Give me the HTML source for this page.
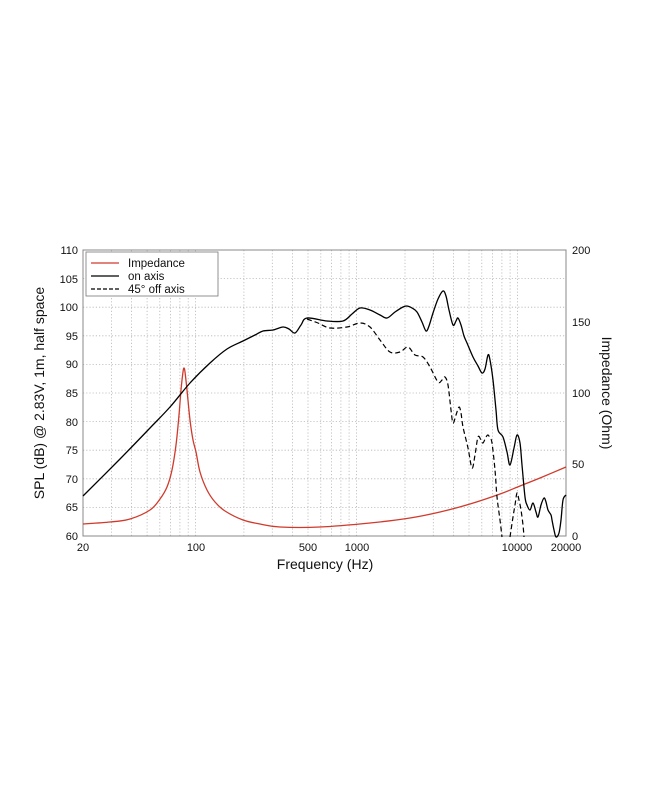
<!DOCTYPE html>
<html><head><meta charset="utf-8"><style>
body{margin:0;background:#fff;}
svg{display:block;font-family:"Liberation Sans",Arial,sans-serif;}
</style></head><body>
<svg id="s" width="650" height="794" viewBox="0 0 650 794" xmlns="http://www.w3.org/2000/svg">
<g stroke="#b5b5b5" stroke-width="0.8" stroke-dasharray="1.2,2">
<line x1="111.4" y1="250" x2="111.4" y2="536"/>
<line x1="131.5" y1="250" x2="131.5" y2="536"/>
<line x1="147.1" y1="250" x2="147.1" y2="536"/>
<line x1="159.8" y1="250" x2="159.8" y2="536"/>
<line x1="170.6" y1="250" x2="170.6" y2="536"/>
<line x1="179.9" y1="250" x2="179.9" y2="536"/>
<line x1="188.2" y1="250" x2="188.2" y2="536"/>
<line x1="195.5" y1="250" x2="195.5" y2="536"/>
<line x1="243.9" y1="250" x2="243.9" y2="536"/>
<line x1="272.3" y1="250" x2="272.3" y2="536"/>
<line x1="292.4" y1="250" x2="292.4" y2="536"/>
<line x1="308.0" y1="250" x2="308.0" y2="536"/>
<line x1="320.8" y1="250" x2="320.8" y2="536"/>
<line x1="331.5" y1="250" x2="331.5" y2="536"/>
<line x1="340.9" y1="250" x2="340.9" y2="536"/>
<line x1="349.1" y1="250" x2="349.1" y2="536"/>
<line x1="356.5" y1="250" x2="356.5" y2="536"/>
<line x1="405.0" y1="250" x2="405.0" y2="536"/>
<line x1="433.3" y1="250" x2="433.3" y2="536"/>
<line x1="453.4" y1="250" x2="453.4" y2="536"/>
<line x1="469.0" y1="250" x2="469.0" y2="536"/>
<line x1="481.8" y1="250" x2="481.8" y2="536"/>
<line x1="492.5" y1="250" x2="492.5" y2="536"/>
<line x1="501.9" y1="250" x2="501.9" y2="536"/>
<line x1="510.1" y1="250" x2="510.1" y2="536"/>
<line x1="517.5" y1="250" x2="517.5" y2="536"/>
<line x1="83" y1="278.6" x2="566" y2="278.6"/>
<line x1="83" y1="307.2" x2="566" y2="307.2"/>
<line x1="83" y1="335.8" x2="566" y2="335.8"/>
<line x1="83" y1="364.4" x2="566" y2="364.4"/>
<line x1="83" y1="393" x2="566" y2="393"/>
<line x1="83" y1="421.6" x2="566" y2="421.6"/>
<line x1="83" y1="450.2" x2="566" y2="450.2"/>
<line x1="83" y1="478.8" x2="566" y2="478.8"/>
<line x1="83" y1="507.4" x2="566" y2="507.4"/>
</g>
<rect x="83" y="250" width="483" height="286" fill="none" stroke="#888" stroke-width="1"/>
<polyline class="sm" fill="none" stroke="#d03a2c" stroke-width="1.3" points="83,524 110,522 130,519 150,510 160,499 167,487 172,470 176,445 179,415 181,390 183,372 184,368 185,372 187,390 190,420 193,440 196,452 200,472 207,490 215,502 225,511 243,520 260,524 280,527 320,527 370,523 410,518 440,512 470,504 500,494 520,486 540,478 566,467"/>
<polyline class="sm" fill="none" stroke="#000" stroke-width="1.3" stroke-linejoin="round" points="83,496 120,459 150,428 170,407 190,383 210,363 227,349 243,341 255,335 263,331 273,330 283,327 289,329 295,333 301,325 307,318 327,321 343,321 352,314 360,308 370,310 380,315 387,318 395,312 403,307 407,306 412,308 417,312 422,322 426,331 429,326 433,313 438,299 443,291 446,296 449,310 453,325 456,321 458,318 461,325 464,336 467,343 473,357 478,366 482,373 485,369 488,355 490,360 493,380 496,410 498,430 503,437 507,452 510,465 514,448 517,435 520,443 522,465 525,497 527,505 530,510 533,503 536,512 538,517 541,505 544,498 546,502 548,510 551,515 552,520 554,530 556,537 559,533 561,520 563,500 566,495"/>
<polyline class="sm" fill="none" stroke="#000" stroke-width="1.2" stroke-dasharray="5,3" stroke-linejoin="round" points="307,319 318,323 330,328 347,327 360,323 370,327 380,340 390,352 400,352 408,347 415,355 423,357 430,367 438,382 442,380 445,377 448,385 451,410 453,423 456,415 459,407 461,413 463,427 468,448 472,468 475,455 478,437 481,440 483,443 486,437 488,435 490,438 492,443 495,470 497,497 500,520 502,537"/>
<polyline class="sm" fill="none" stroke="#000" stroke-width="1.2" stroke-dasharray="5,3" stroke-linejoin="round" points="510,537 513,517 515,505 517,493 519,500 521,510 523,525 524,537"/>
<rect x="86" y="252" width="132" height="44" fill="#fff" stroke="#777" stroke-width="0.8"/>
<line x1="91" y1="263" x2="119" y2="263" stroke="#d03a2c" stroke-width="1.3"/>
<line x1="91" y1="276" x2="119" y2="276" stroke="#000" stroke-width="1.3"/>
<line x1="91" y1="289" x2="119" y2="289" stroke="#000" stroke-width="1.2" stroke-dasharray="4,2"/>
<g font-size="11.5" fill="#111">
<text x="128" y="267">Impedance</text>
<text x="128" y="280">on axis</text>
<text x="128" y="293">45° off axis</text>
</g>
<g font-size="11" fill="#111" text-anchor="end">
<text x="78" y="254">110</text><text x="78" y="283">105</text><text x="78" y="311">100</text>
<text x="78" y="340">95</text><text x="78" y="368">90</text><text x="78" y="397">85</text>
<text x="78" y="426">80</text><text x="78" y="454">75</text><text x="78" y="483">70</text>
<text x="78" y="511">65</text><text x="78" y="540">60</text>
</g>
<g font-size="11" fill="#111">
<text x="572" y="254">200</text><text x="572" y="326">150</text><text x="572" y="397">100</text>
<text x="572" y="468">50</text><text x="572" y="540">0</text>
</g>
<g font-size="11" fill="#111" text-anchor="middle">
<text x="83" y="551">20</text><text x="196" y="551">100</text><text x="308" y="551">500</text>
<text x="357" y="551">1000</text><text x="517" y="551">10000</text><text x="566" y="551">20000</text>
</g>
<text x="325" y="569" font-size="14" text-anchor="middle" fill="#111">Frequency (Hz)</text>
<text transform="translate(44,393) rotate(-90)" font-size="14" text-anchor="middle" fill="#111">SPL (dB) @ 2.83V, 1m, half space</text>
<text transform="translate(602,393) rotate(90)" font-size="14" text-anchor="middle" fill="#111">Impedance (Ohm)</text>
</svg>
<script>
document.querySelectorAll('polyline.sm').forEach(function(pl){
  var p=pl.getAttribute('points').trim().split(/\s+/).map(function(s){return s.split(',').map(Number);});
  var d='M'+p[0][0]+','+p[0][1];
  for(var i=0;i<p.length-1;i++){
    var p0=p[i-1]||p[i],p1=p[i],p2=p[i+1],p3=p[i+2]||p2;
    var c1x=p1[0]+(p2[0]-p0[0])/6,c1y=p1[1]+(p2[1]-p0[1])/6;
    var c2x=p2[0]-(p3[0]-p1[0])/6,c2y=p2[1]-(p3[1]-p1[1])/6;
    d+=' C'+c1x.toFixed(2)+','+c1y.toFixed(2)+' '+c2x.toFixed(2)+','+c2y.toFixed(2)+' '+p2[0]+','+p2[1];
  }
  var path=document.createElementNS('http://www.w3.org/2000/svg','path');
  ['fill','stroke','stroke-width','stroke-dasharray','stroke-linejoin'].forEach(function(a){if(pl.getAttribute(a))path.setAttribute(a,pl.getAttribute(a));});
  path.setAttribute('d',d);
  pl.parentNode.replaceChild(path,pl);
});
</script>
</body></html>
